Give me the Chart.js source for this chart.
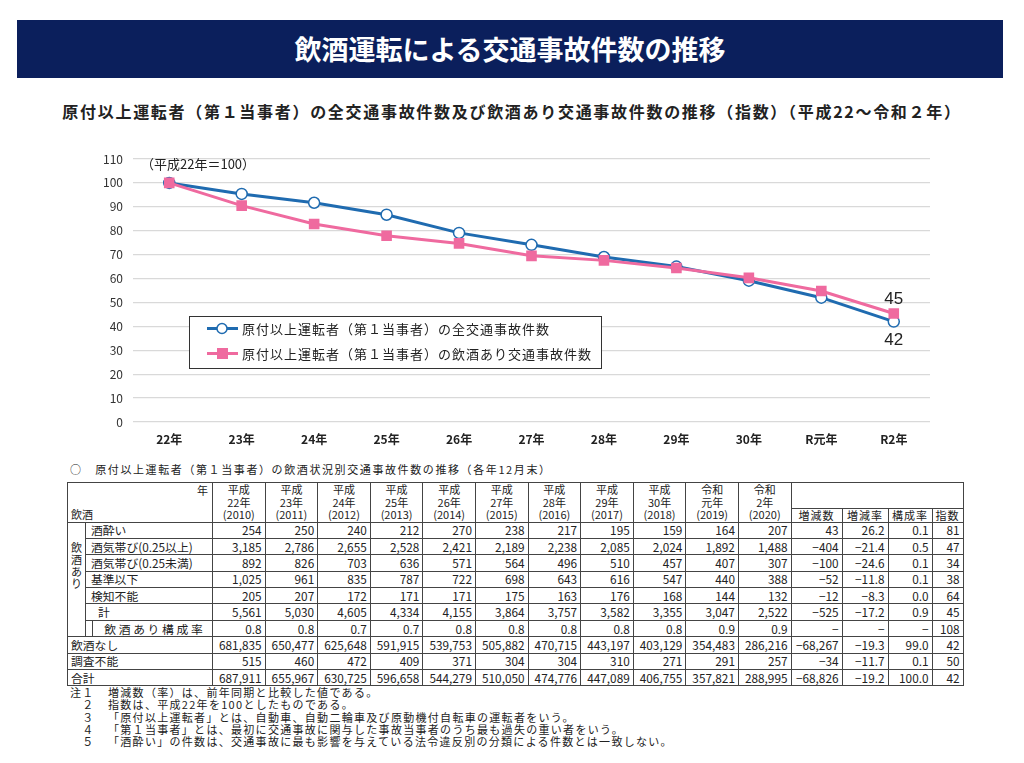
<!DOCTYPE html>
<html lang="ja">
<head>
<meta charset="utf-8">
<script src="https://cdn.jsdelivr.net/npm/chart.js@4.4.1/dist/chart.umd.min.js"></script>
<style>
  body { margin:0; width:1024px; height:763px; background:#fff; position:relative; overflow:hidden;
         font-family:"Noto Sans CJK JP", sans-serif; color:#222; }
  #banner { position:absolute; left:17px; top:20px; width:986px; height:58px; background:#0b1f5c;
            color:#fff; font-size:27px; font-weight:bold; text-align:center; line-height:58px; }
  #subtitle { position:absolute; left:0; top:99px; width:1024px; text-align:center;
              font-size:16px; font-weight:bold; letter-spacing:1.7px; }
  #chartBox { position:absolute; left:0; top:140px; width:1024px; height:310px; }
  #caption { position:absolute; left:70px; top:461px; font-size:11px; letter-spacing:1.6px; }
  #tbl { position:absolute; left:67px; top:482px; border-collapse:collapse; table-layout:fixed;
         font-size:11px; width:896px; }
  #tbl td, #tbl th { border:1px solid #444; padding:0 3px; white-space:nowrap; font-weight:normal; overflow:hidden; }
  #tbl td { line-height:14px; font-size:11.8px; }
  #tbl td.num { text-align:right; }
  #tbl .dot { border-left:1px dotted #888; }
  #tbl tr.row { height:16.4px; }
  #tbl th.yr { line-height:12.5px; vertical-align:bottom; text-align:center; padding-bottom:1px; }
  #notes { position:absolute; left:70px; top:686px; font-size:11px; line-height:12.3px; letter-spacing:1.3px; }
  #notes div { white-space:nowrap; }
  #notes span { display:inline-block; width:38px; }
</style>
</head>
<body>
<div id="banner">飲酒運転による交通事故件数の推移</div>
<div id="subtitle">原付以上運転者（第１当事者）の全交通事故件数及び飲酒あり交通事故件数の推移（指数）（平成22～令和２年）</div>
<div id="chartBox"><canvas id="trendChart"></canvas></div>
<div id="caption">○　原付以上運転者（第１当事者）の飲酒状況別交通事故件数の推移（各年12月末）</div>
<table id="tbl"></table>
<div id="notes"></div>
<script>
// グラフ用データ（指数、平成22年＝100）
const years = ['22年', '23年', '24年', '25年', '26年', '27年', '28年', '29年', '30年', 'R元年', 'R2年'];
const allAccidentIndex = [100, 95.4, 91.7, 86.7, 79.1, 74.1, 69.0, 65.0, 59.1, 52.0, 42.0];
const drunkAccidentIndex = [100, 90.5, 82.8, 77.9, 74.7, 69.5, 67.6, 64.4, 60.3, 54.8, 45.4];
const seriesLabels = ['原付以上運転者（第１当事者）の全交通事故件数', '原付以上運転者（第１当事者）の飲酒あり交通事故件数'];
const endLabels = ['42', '45'];
const baseNote = '（平成22年＝100）';

// 表用データ
const tableEras = ['平成', '平成', '平成', '平成', '平成', '平成', '平成', '平成', '平成', '令和', '令和'];
const tableYears = ['22年', '23年', '24年', '25年', '26年', '27年', '28年', '29年', '30年', '元年', '2年'];
const tableAD = ['(2010)', '(2011)', '(2012)', '(2013)', '(2014)', '(2015)', '(2016)', '(2017)', '(2018)', '(2019)', '(2020)'];
const extraHeads = ['増減数', '増減率', '構成率', '指数'];
const rowLabels = ['酒酔い', '酒気帯び(0.25以上)', '酒気帯び(0.25未満)', '基準以下', '検知不能', '計', '飲 酒 あ り 構 成 率', '飲酒なし', '調査不能', '合計'];
const drunk = [254, 250, 240, 212, 270, 238, 217, 195, 159, 164, 207];
const dui025over = [3185, 2786, 2655, 2528, 2421, 2189, 2238, 2085, 2024, 1892, 1488];
const dui025under = [892, 826, 703, 636, 571, 564, 496, 510, 457, 407, 307];
const belowStd = [1025, 961, 835, 787, 722, 698, 643, 616, 547, 440, 388];
const undetected = [205, 207, 172, 171, 171, 175, 163, 176, 168, 144, 132];
const drinkTotal = [5561, 5030, 4605, 4334, 4155, 3864, 3757, 3582, 3355, 3047, 2522];
const drinkRatio = [0.8, 0.8, 0.7, 0.7, 0.8, 0.8, 0.8, 0.8, 0.8, 0.9, 0.9];
const noDrink = [681835, 650477, 625648, 591915, 539753, 505882, 470715, 443197, 403129, 354483, 286216];
const unknown = [515, 460, 472, 409, 371, 304, 304, 310, 271, 291, 257];
const grandTotal = [687911, 655967, 630725, 596658, 544279, 510050, 474776, 447089, 406755, 357821, 288995];
const changeCount = [43, -404, -100, -52, -12, -525, null, -68267, -34, -68826];
const changeRate = [26.2, -21.4, -24.6, -11.8, -8.3, -17.2, null, -19.3, -11.7, -19.2];
const shareRate = [0.1, 0.5, 0.1, 0.1, 0.0, 0.9, null, 99.0, 0.1, 100.0];
const indexValue = [81, 47, 34, 38, 64, 45, 108, 42, 50, 42];

const notes = [
  ['注１', '増減数（率）は、前年同期と比較した値である。'],
  ['　２', '指数は、平成22年を100としたものである。'],
  ['　３', '「原付以上運転者」とは、自動車、自動二輪車及び原動機付自転車の運転者をいう。'],
  ['　４', '「第１当事者」とは、最初に交通事故に関与した事故当事者のうち最も過失の重い者をいう。'],
  ['　５', '「酒酔い」の件数は、交通事故に最も影響を与えている法令違反別の分類による件数とは一致しない。']
];

const BLUE = '#1f6bb0';
const PINK = '#ef6a9f';
const FONT = '"Noto Sans CJK JP", sans-serif';

// 注記・端ラベル・凡例を描くプラグイン
const overlayPlugin = {
  id: 'overlay',
  afterDatasetsDraw(chart) {
    const ctx = chart.ctx;
    const area = chart.chartArea;
    ctx.save();
    ctx.fillStyle = '#222';
    ctx.textBaseline = 'middle';
    ctx.font = '13px ' + FONT;
    ctx.fillText(baseNote, area.left + 8, chart.scales.y.getPixelForValue(110) + 5);

    // 最終年の値
    ctx.font = '17px "Liberation Sans Narrow", "Arial Narrow", sans-serif';
    ctx.textAlign = 'center';
    const blueLast = chart.getDatasetMeta(0).data[years.length - 1];
    const pinkLast = chart.getDatasetMeta(1).data[years.length - 1];
    ctx.fillText(endLabels[0], blueLast.x, blueLast.y + 19);
    ctx.fillText(endLabels[1], pinkLast.x, pinkLast.y - 14);

    // 凡例
    const bx = 189, by = 176, bw = 412, bh = 52;
    ctx.fillStyle = '#fff';
    ctx.fillRect(bx, by, bw, bh);
    ctx.strokeStyle = '#333';
    ctx.lineWidth = 1;
    ctx.strokeRect(bx + 0.5, by + 0.5, bw, bh);
    ctx.textAlign = 'left';
    ctx.font = '13px ' + FONT;
    ctx.letterSpacing = '1px';
    chart.data.datasets.forEach((ds, i) => {
      const y = by + 12.5 + i * 25;
      ctx.strokeStyle = ds.borderColor;
      ctx.lineWidth = 3;
      ctx.beginPath();
      ctx.moveTo(207, y);
      ctx.lineTo(238, y);
      ctx.stroke();
      if (i === 0) {
        ctx.beginPath();
        ctx.arc(222, y, 5, 0, Math.PI * 2);
        ctx.fillStyle = '#fff';
        ctx.fill();
        ctx.lineWidth = 1.5;
        ctx.stroke();
      } else {
        ctx.fillStyle = ds.borderColor;
        ctx.fillRect(217, y - 5.5, 11, 11);
      }
      ctx.fillStyle = '#222';
      ctx.fillText(ds.label, 242, y + 1);
    });
    ctx.restore();
  }
};

new Chart(document.getElementById('trendChart'), {
  type: 'line',
  data: {
    labels: years,
    datasets: [{
      label: seriesLabels[0],
      data: allAccidentIndex,
      borderColor: BLUE,
      backgroundColor: '#fff',
      borderWidth: 3,
      pointStyle: 'circle',
      pointRadius: 5.5,
      pointBorderWidth: 1.5,
      pointBorderColor: BLUE,
      pointBackgroundColor: '#fff',
      order: 1
    }, {
      label: seriesLabels[1],
      data: drunkAccidentIndex,
      borderColor: PINK,
      backgroundColor: PINK,
      borderWidth: 3,
      pointStyle: 'rect',
      pointRadius: 7.5,
      pointBorderWidth: 0,
      pointBackgroundColor: PINK,
      order: 0
    }]
  },
  options: {
    responsive: true,
    maintainAspectRatio: false,
    animation: false,
    layout: { padding: { left: 90, right: 94, top: 19, bottom: 0 } },
    plugins: {
      legend: { display: false },
      tooltip: { enabled: false }
    },
    scales: {
      x: {
        offset: true,
        grid: { display: false },
        border: { display: false },
        ticks: { color: '#222', font: { family: FONT, size: 12, weight: 'bold' }, padding: 2 },
        afterFit(scale) { scale.height = 28; }
      },
      y: {
        min: 0,
        max: 110,
        grid: { color: '#d9d9d9', lineWidth: 1.2, drawTicks: false },
        border: { display: false },
        ticks: { stepSize: 10, color: '#333', font: { family: FONT, size: 12 }, padding: 10 },
        afterFit(scale) { scale.width = 43; }
      }
    }
  },
  plugins: [overlayPlugin]
});

// 表の作成
function fmt(v) {
  return v.toLocaleString('en-US').replace('-', '−');
}
function fmt1(v) {
  return v === null ? '−' : v.toFixed(1).replace('-', '−');
}

const tbl = document.getElementById('tbl');
let html = '<colgroup><col style="width:18px"><col style="width:127px">';
for (let i = 0; i < years.length; i++) html += '<col style="width:52.6px">';
html += '<col style="width:51px"><col style="width:46px"><col style="width:44px"><col style="width:31px"></colgroup>';

html += '<tr style="height:25px"><th colspan="2" rowspan="2" style="vertical-align:top;padding:0">' +
  '<div style="text-align:right;padding:1px 4px 0 0;line-height:12px">年</div>' +
  '<div style="text-align:left;padding:12px 0 0 3px;line-height:12px">飲酒</div></th>';
for (let i = 0; i < years.length; i++) {
  html += '<th class="yr" rowspan="2">' + tableEras[i] + '<br>' + tableYears[i] + '<br>' + tableAD[i] + '</th>';
}
html += '<th colspan="4" style="border-bottom:1px solid #444"></th></tr>';
html += '<tr style="height:13px">';
extraHeads.forEach((h, i) => {
  html += '<th class="' + (i > 0 ? 'dot' : '') + '" style="text-align:center;line-height:12px;letter-spacing:1px;padding:0">' + h + '</th>';
});
html += '</tr>';

const rowData = [drunk, dui025over, dui025under, belowStd, undetected, drinkTotal, drinkRatio, noDrink, unknown, grandTotal];
rowData.forEach((vals, r) => {
  html += '<tr class="row">';
  if (r === 0) {
    html += '<td rowspan="7" style="vertical-align:top;text-align:center;padding:18px 0 0;line-height:12px;font-size:11px">飲<br>酒<br>あ<br>り</td>';
  }
  if (r < 5) {
    html += '<td style="padding-left:5px">' + rowLabels[r] + '</td>';
  } else if (r === 5) {
    html += '<td style="border-left:none;padding-left:12px">' + rowLabels[r] + '</td>';
  } else if (r === 6) {
    html += '<td style="border-left:none;text-align:center;padding-left:12px;' +
      'background:linear-gradient(#444,#444) 6px 0 / 1px 100% no-repeat">' + rowLabels[r] + '</td>';
  } else {
    html += '<td colspan="2" style="padding-left:3px">' + rowLabels[r] + '</td>';
  }
  vals.forEach(v => {
    html += '<td class="num">' + (r === 6 ? v.toFixed(1) : fmt(v)) + '</td>';
  });
  html += '<td class="num">' + (changeCount[r] === null ? '−' : fmt(changeCount[r])) + '</td>';
  html += '<td class="num dot">' + fmt1(changeRate[r]) + '</td>';
  html += '<td class="num dot">' + fmt1(shareRate[r]) + '</td>';
  html += '<td class="num dot">' + indexValue[r] + '</td>';
  html += '</tr>';
});
tbl.innerHTML = html;

document.getElementById('notes').innerHTML = notes
  .map(n => '<div><span>' + n[0] + '</span>' + n[1] + '</div>').join('');
</script>
</body>
</html>
